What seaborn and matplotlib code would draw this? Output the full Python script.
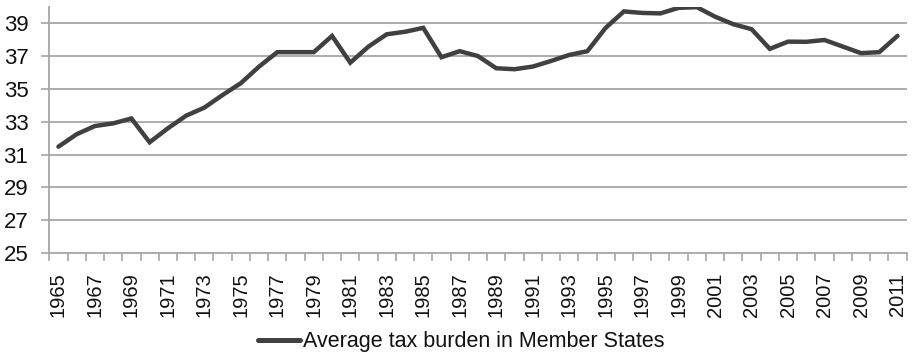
import matplotlib
matplotlib.use("Agg")
import matplotlib.pyplot as plt
import seaborn as sns
import pandas as pd
import numpy as np

years = list(range(1965, 2012))
tax_burden = [
    31.48, 32.24, 32.74, 32.90, 33.20, 31.75, 32.60, 33.37, 33.86, 34.63,
    35.35, 36.36, 37.24, 37.24, 37.24, 38.23, 36.60, 37.58, 38.33, 38.48,
    38.72, 36.93, 37.30, 37.00, 36.26, 36.20, 36.36, 36.70, 37.07, 37.30,
    38.72, 39.72, 39.63, 39.60, 39.94, 39.98, 39.40, 38.94, 38.64, 37.44,
    37.88, 37.87, 37.98, 37.58, 37.18, 37.24, 38.23,
]
series_name = "Average tax burden in Member States"
y_ticks = [25, 27, 29, 31, 33, 35, 37, 39]

df = pd.DataFrame({"pos": np.arange(len(years)), "value": tax_burden,
                   "series": series_name})

sns.set_theme(style="white")
plt.rcParams["font.family"] = ["Liberation Sans", "DejaVu Sans"]

fig = plt.figure(figsize=(9.13, 3.6), dpi=100)
ax = fig.add_axes([0.054, 0.297, 0.939, 0.684])

grid_color = "#a6a6a6"
line_color = "#404040"
text_color = "#111111"

for v in y_ticks[1:]:
    ax.axhline(v, color=grid_color, lw=1.3, zorder=0)

sns.lineplot(data=df, x="pos", y="value", hue="series",
             palette=[line_color], lw=3.2, ax=ax, legend=False,
             solid_joinstyle="miter")

ax.set_xlim(-0.5, len(years) - 0.5)
ax.set_ylim(25, 40)
ax.set_yticks(y_ticks)
ax.set_yticklabels([str(t) for t in y_ticks], fontsize=16, color=text_color)

# category boundaries carry the tick marks, labels sit at category centres
ax.set_xticks(np.arange(len(years) + 1) - 0.5)
ax.set_xticklabels([])
ax.tick_params(axis="x", which="major", length=6, width=1.2,
               color=grid_color, direction="out", bottom=True)
label_pos = np.arange(0, len(years), 2)
ax.set_xticks(label_pos, minor=True)
ax.set_xticklabels([str(years[i]) for i in label_pos], minor=True,
                   rotation=90, fontsize=14.5, color=text_color)
ax.tick_params(axis="x", which="minor", length=0, pad=14)
ax.tick_params(axis="y", length=6, width=1.2, color=grid_color,
               direction="out", left=True, pad=9)

ax.set_xlabel("")
ax.set_ylabel("")
for side in ["top", "right"]:
    ax.spines[side].set_visible(False)
for side in ["left", "bottom"]:
    ax.spines[side].set_color(grid_color)
    ax.spines[side].set_linewidth(1.3)

handle = plt.Line2D([], [], color=line_color, lw=3.6)
fig.legend([handle], [series_name], loc="center",
           bbox_to_anchor=(0.5055, 0.05), frameon=False, fontsize=15.5,
           handlelength=1.95, handletextpad=0.15, labelcolor=text_color)

fig.savefig("out.png", dpi=100)
